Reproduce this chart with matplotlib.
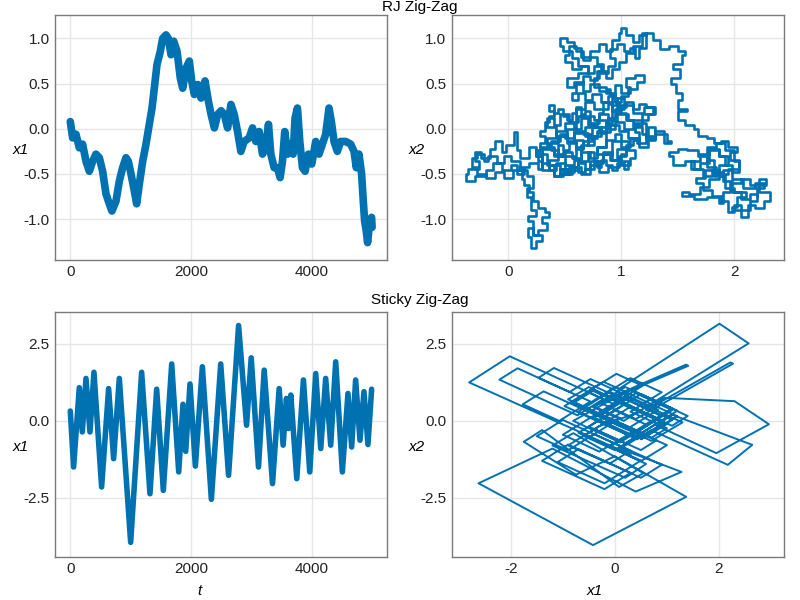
#!/usr/bin/env python
# -*- coding: utf-8 -*-
"""Zig-zag sampler traces: RJ Zig-Zag (top row) and Sticky Zig-Zag (bottom row)."""

import matplotlib
matplotlib.use('Agg')
import matplotlib.pyplot as plt

##############################################################################
# Data

# RJ Zig-Zag, x1 against time
rj_t = [0, 39, 94, 149, 204, 260, 315, 370, 425, 481, 536, 591, 646, 690,
        757, 812, 867, 923, 961, 1006, 1061, 1099, 1144, 1199, 1254, 1309,
        1354, 1392, 1436, 1492, 1530, 1586, 1624, 1669, 1713, 1768, 1823,
        1862, 1917, 1972, 2011, 2055, 2111, 2166, 2232, 2287, 2332, 2387,
        2442, 2497, 2551, 2606, 2661, 2716, 2771, 2826, 2881, 2964, 3019,
        3074, 3129, 3184, 3239, 3283, 3322, 3377, 3432, 3476, 3515, 3553,
        3598, 3653, 3691, 3724, 3763, 3802, 3846, 3890, 3945, 4000, 4066,
        4121, 4176, 4231, 4286, 4325, 4369, 4424, 4479, 4562, 4645, 4700,
        4738, 4782, 4826, 4854, 4876, 4903, 4925, 4958, 4991, 5000]
rj_x1 = [0.08, -0.10, -0.06, -0.21, -0.17, -0.36, -0.47, -0.36, -0.28,
         -0.32, -0.47, -0.72, -0.83, -0.91, -0.80, -0.58, -0.43, -0.32,
         -0.36, -0.50, -0.69, -0.83, -0.61, -0.36, -0.17, 0.05, 0.23, 0.45,
         0.71, 0.86, 1.00, 1.04, 1.00, 0.82, 0.97, 0.86, 0.56, 0.45, 0.67,
         0.75, 0.53, 0.38, 0.49, 0.34, 0.53, 0.31, 0.16, 0.01, 0.16, 0.20,
         0.16, 0.01, 0.27, 0.16, -0.03, -0.25, -0.14, -0.10, 0.01, -0.14,
         -0.03, -0.28, -0.21, 0.05, -0.28, -0.43, -0.43, -0.54, -0.36, -0.03,
         -0.28, -0.17, -0.28, 0.12, 0.23, -0.14, -0.43, -0.47, -0.28, -0.39,
         -0.14, -0.28, -0.17, -0.06, 0.23, 0.08, -0.14, -0.25, -0.14, -0.14,
         -0.17, -0.25, -0.43, -0.28, -0.50, -0.80, -1.02, -1.13, -1.26,
         -1.05, -0.98, -1.09]

# RJ Zig-Zag, (x1, x2) corners of the axis-parallel walk, region by region
rj_center_a = [(0.60, -0.20), (0.66, -0.12), (0.58, -0.05), (0.70, -0.18),
               (0.76, -0.08), (0.68, 0.02), (0.80, -0.05), (0.86, -0.20),
               (0.78, -0.28), (0.90, -0.35), (0.96, -0.22), (1.04, -0.30),
               (0.98, -0.42), (0.88, -0.48), (0.80, -0.40), (0.72, -0.50),
               (0.64, -0.42), (0.56, -0.50), (0.50, -0.38), (0.42, -0.46),
               (0.36, -0.34), (0.44, -0.24), (0.38, -0.14), (0.46, -0.06),
               (0.52, -0.16), (0.60, -0.30)]
rj_left = [(0.50, -0.28), (0.40, -0.22), (0.30, -0.30), (0.24, -0.20),
           (0.18, -0.32), (0.10, -0.24), (0.08, -0.03), (0.05, -0.18),
           (-0.02, -0.26), (-0.06, -0.14), (-0.12, -0.22), (-0.16, -0.32),
           (-0.24, -0.26), (-0.30, -0.36), (-0.26, -0.44), (-0.36, -0.50),
           (-0.38, -0.58), (-0.30, -0.52), (-0.20, -0.46), (-0.14, -0.38),
           (-0.06, -0.46), (0.02, -0.40), (0.08, -0.50), (0.14, -0.44),
           (0.12, -0.55)]
rj_tail = [(0.14, -0.62), (0.18, -0.70), (0.22, -0.80), (0.26, -0.88),
           (0.32, -0.92), (0.36, -0.98), (0.30, -1.04), (0.34, -1.12),
           (0.26, -1.18), (0.22, -1.10), (0.17, -1.20), (0.20, -1.32),
           (0.24, -1.24), (0.30, -1.18), (0.22, -1.02), (0.17, -0.96),
           (0.24, -0.90), (0.20, -0.76), (0.16, -0.66), (0.22, -0.52)]
rj_left_b = [(0.16, -0.46), (0.10, -0.36), (0.02, -0.30), (-0.04, -0.38),
             (-0.10, -0.30), (-0.18, -0.36), (-0.22, -0.28), (-0.28, -0.32),
             (-0.32, -0.42), (-0.28, -0.50), (-0.20, -0.54), (-0.12, -0.48),
             (-0.04, -0.54), (0.04, -0.46), (0.10, -0.42), (0.18, -0.38),
             (0.26, -0.44), (0.30, -0.36), (0.26, -0.26), (0.30, -0.46)]
rj_center_b = [(0.36, -0.40), (0.46, -0.50), (0.54, -0.42), (0.62, -0.36),
               (0.70, -0.26), (0.76, -0.36), (0.84, -0.28), (0.92, -0.14),
               (1.00, -0.20), (1.08, -0.10), (1.16, -0.20), (1.24, -0.12),
               (1.30, -0.02), (1.38, -0.16), (1.44, -0.14), (1.40, -0.06),
               (1.30, -0.10), (1.22, 0.06), (1.12, 0.00), (1.02, 0.08),
               (0.94, 0.00), (0.86, 0.10), (0.78, 0.04), (0.70, 0.14),
               (0.62, 0.08), (0.54, 0.16), (0.46, 0.04), (0.40, 0.12),
               (0.34, 0.02), (0.42, -0.08), (0.52, 0.00), (0.60, 0.22),
               (0.68, 0.30), (0.76, 0.22), (0.84, 0.30), (0.92, 0.20),
               (1.00, 0.26), (1.10, 0.18), (1.20, 0.24), (1.30, 0.16),
               (1.18, 0.10), (1.06, 0.16), (0.96, 0.34)]
rj_center_c = [(1.02, 0.22), (0.94, 0.12), (0.88, 0.02), (0.82, -0.08),
               (0.74, -0.14), (0.66, -0.22), (0.60, -0.14), (0.54, -0.24),
               (0.48, -0.18), (0.44, -0.30), (0.50, -0.40), (0.58, -0.34),
               (0.64, -0.26), (0.72, -0.32), (0.78, -0.20), (0.86, -0.12),
               (0.94, -0.06), (1.00, -0.14), (1.06, -0.24), (1.12, -0.32),
               (1.08, -0.40), (1.00, -0.34), (0.92, -0.26), (0.84, -0.38),
               (0.76, -0.44), (0.68, -0.38), (0.62, -0.46), (0.54, -0.44),
               (0.48, -0.52), (0.40, -0.40), (0.34, -0.28), (0.28, -0.20),
               (0.34, -0.10), (0.42, -0.02), (0.50, 0.06), (0.58, 0.00),
               (0.64, 0.12), (0.72, 0.06), (0.80, 0.16), (0.88, 0.10),
               (0.96, 0.18), (1.04, 0.10), (1.10, 0.02), (1.18, -0.06),
               (1.24, 0.02), (1.30, -0.08), (1.22, -0.16), (1.14, -0.10),
               (1.06, -0.02), (0.98, 0.04), (0.90, -0.04), (0.82, 0.02),
               (0.74, -0.06), (0.66, -0.02), (0.58, -0.10), (0.50, -0.08),
               (0.44, -0.16), (0.36, -0.20), (0.40, -0.30), (0.48, -0.26),
               (0.56, -0.32), (0.64, -0.18), (0.70, -0.10), (0.78, -0.02),
               (0.86, 0.06), (0.92, 0.26), (0.96, 0.34)]
rj_center_d = [(0.92, 0.28), (0.88, 0.22), (0.84, 0.18), (0.80, 0.10),
               (0.76, 0.14), (0.72, 0.20), (0.68, 0.16), (0.64, 0.24),
               (0.60, 0.18), (0.56, 0.10), (0.52, 0.14), (0.48, 0.22),
               (0.44, 0.18), (0.40, 0.26), (0.36, 0.20), (0.40, 0.14),
               (0.36, 0.08), (0.32, -0.02), (0.28, -0.08), (0.32, -0.16),
               (0.28, -0.24), (0.24, -0.30), (0.30, -0.38), (0.36, -0.46),
               (0.40, -0.52), (0.46, -0.44), (0.52, -0.48), (0.58, -0.42),
               (0.62, -0.48), (0.68, -0.44), (0.72, -0.36), (0.78, -0.42),
               (0.82, -0.34), (0.86, -0.40), (0.92, -0.46), (0.96, -0.38),
               (1.02, -0.44), (1.06, -0.36), (1.00, -0.28), (1.04, -0.18),
               (1.10, -0.12), (1.16, -0.04), (1.12, 0.04), (1.18, 0.10),
               (1.24, 0.16), (1.28, 0.24), (1.22, 0.28), (1.16, 0.22),
               (1.10, 0.30), (1.04, 0.24), (0.98, 0.30), (0.94, 0.38),
               (0.90, 0.44)]
rj_upper = [(0.88, 0.42), (0.80, 0.50), (0.72, 0.42), (0.66, 0.52),
            (0.58, 0.46), (0.52, 0.56), (0.62, 0.62), (0.70, 0.70),
            (0.62, 0.78), (0.56, 0.86), (0.48, 0.92), (0.46, 1.00),
            (0.52, 0.96), (0.58, 0.90), (0.64, 0.80), (0.72, 0.86),
            (0.80, 0.94), (0.86, 0.86), (0.92, 0.98), (0.98, 1.06),
            (1.00, 1.12), (1.04, 1.04), (1.10, 0.96), (1.16, 1.04),
            (1.22, 1.06), (1.18, 0.92), (1.10, 0.84), (1.04, 0.74),
            (0.98, 0.66), (0.92, 0.56), (0.86, 0.64), (0.80, 0.56),
            (0.76, 0.46), (0.86, 0.40), (0.94, 0.48), (1.00, 0.40),
            (1.08, 0.46), (1.04, 0.56), (1.12, 0.60), (1.20, 0.52),
            (1.14, 0.44), (1.06, 0.36), (1.00, 0.30)]
rj_upper_b = [(0.94, 0.36), (0.88, 0.30), (0.82, 0.38), (0.74, 0.32),
              (0.68, 0.40), (0.62, 0.32), (0.56, 0.40), (0.60, 0.50),
              (0.66, 0.58), (0.72, 0.54), (0.78, 0.64), (0.84, 0.72),
              (0.78, 0.80), (0.72, 0.76), (0.66, 0.86), (0.60, 0.92),
              (0.54, 0.82), (0.50, 0.74), (0.56, 0.66), (0.64, 0.70),
              (0.70, 0.62), (0.76, 0.70), (0.82, 0.62), (0.88, 0.70),
              (0.94, 0.78), (0.90, 0.88), (0.96, 0.94), (1.02, 0.86),
              (1.08, 0.90), (1.12, 0.78), (1.16, 0.90), (1.22, 1.06)]
rj_arm = [(1.28, 0.98), (1.34, 0.88), (1.42, 0.92), (1.50, 0.86),
          (1.56, 0.82), (1.54, 0.72), (1.46, 0.66), (1.52, 0.56),
          (1.44, 0.50), (1.48, 0.40), (1.54, 0.32), (1.50, 0.22),
          (1.58, 0.20), (1.50, 0.10), (1.56, 0.04), (1.64, 0.00),
          (1.68, -0.08), (1.76, -0.10), (1.82, -0.16), (1.88, -0.14)]
rj_right = [(1.94, -0.20), (2.02, -0.26), (1.96, -0.34), (2.04, -0.44),
            (1.94, -0.50), (1.84, -0.42), (1.76, -0.30), (1.68, -0.24),
            (1.58, -0.22), (1.50, -0.26), (1.42, -0.30), (1.46, -0.40),
            (1.56, -0.36), (1.64, -0.44), (1.72, -0.52), (1.80, -0.46),
            (1.86, -0.56), (1.78, -0.64), (1.70, -0.72), (1.60, -0.70),
            (1.54, -0.74), (1.64, -0.78), (1.76, -0.76), (1.86, -0.82),
            (1.90, -0.70), (1.96, -0.60), (2.06, -0.56), (2.14, -0.62),
            (2.22, -0.56), (2.28, -0.62), (2.22, -0.70), (2.32, -0.80),
            (2.26, -0.88), (2.18, -0.84), (2.12, -0.98), (2.06, -0.90),
            (1.98, -0.86), (2.02, -0.76), (2.10, -0.70), (2.00, -0.66),
            (1.92, -0.52), (1.86, -0.40), (1.94, -0.30), (1.86, -0.24),
            (1.78, -0.38), (1.70, -0.44)]
rj_right_b = [(1.62, -0.36), (1.70, -0.28), (1.78, -0.22), (1.86, -0.30),
              (1.92, -0.40), (1.98, -0.48), (2.04, -0.36), (2.00, -0.24),
              (1.92, -0.16), (1.84, -0.20), (1.76, -0.34), (1.82, -0.48),
              (1.90, -0.58), (1.98, -0.70), (2.06, -0.78), (2.14, -0.72),
              (2.20, -0.80), (2.14, -0.90), (2.06, -0.84), (2.00, -0.92),
              (1.94, -0.80), (1.88, -0.74), (1.80, -0.68), (1.72, -0.60),
              (1.66, -0.54), (1.74, -0.46), (1.82, -0.52), (1.90, -0.46),
              (1.98, -0.56), (2.08, -0.66), (2.18, -0.60), (2.26, -0.66),
              (2.20, -0.74)]

# Sticky Zig-Zag, x1 against time (turning points)
st_t = [0, 55, 149, 199, 260, 326, 392, 519, 635, 718, 812, 1000, 1182,
        1320, 1431, 1541, 1680, 1796, 1867, 1912, 1983, 2072, 2188, 2337,
        2492, 2622, 2788, 2920, 2997, 3118, 3212, 3350, 3460, 3526, 3581,
        3614, 3653, 3752, 3862, 3967, 4066, 4149, 4231, 4314, 4397, 4507,
        4600, 4661, 4727, 4799, 4865, 4931, 4992]
st_x1 = [0.32, -1.50, 1.08, -0.36, 1.38, -0.36, 1.58, -2.15, 1.05, -1.23,
         1.38, -3.95, 1.58, -2.37, 1.03, -2.26, 1.85, -1.66, 0.54, -0.99,
         1.20, -1.47, 1.76, -2.55, 1.85, -1.77, 3.10, -0.14, 2.05, -1.50,
         1.65, -2.04, 1.05, -0.79, 0.73, -0.25, 0.84, -1.88, 1.33, -1.66,
         1.54, -0.90, 1.38, -0.79, 1.92, -1.66, 0.89, -0.85, 1.33, -0.63,
         0.95, -0.77, 1.03]

# Sticky Zig-Zag, (x1, x2) turning points of the diagonal walk
st_upper_left = [(0.30, -1.10), (-2.80, 1.25), (-2.02, 2.10), (-0.22, 0.71),
                 (-0.72, 0.18), (-2.22, 1.34), (-1.87, 1.71), (-0.47, 0.63),
                 (-1.07, 0.00), (-1.77, 0.54), (-1.37, 0.96), (0.23, -0.27),
                 (0.83, 0.36), (-0.47, 1.36), (-0.87, 0.94), (-1.47, 1.40),
                 (-1.17, 1.72), (0.13, 0.72), (0.53, 1.14), (0.03, 1.53),
                 (-0.97, 0.48), (0.43, -0.60), (0.93, -0.07), (-0.47, 1.01),
                 (-0.22, 1.27), (0.08, 1.04)]
st_upper_right = [(2.01, 3.16), (2.57, 2.52), (0.17, 0.00), (-0.43, 0.46),
                  (1.41, 1.79), (1.37, 1.83), (-0.30, 0.60), (0.40, 0.06),
                  (2.27, 1.86), (2.22, 1.90), (0.60, 0.35), (0.95, 0.75),
                  (2.30, 0.64), (2.96, -0.11), (1.95, -1.05), (0.80, -0.15),
                  (1.10, 0.20), (2.64, -0.78), (2.17, -1.43), (0.70, -0.30),
                  (0.10, -0.90), (1.28, -1.66)]
st_lower = [(0.40, -2.30), (-1.20, -0.90), (-2.62, -2.03), (-0.42, -4.04),
            (1.37, -2.47), (0.00, -1.15), (-0.75, -1.75), (-1.75, -0.68),
            (-1.40, -0.30), (0.08, -2.15), (0.55, -1.70), (-0.80, -0.40),
            (-1.20, -0.80), (0.20, -1.85), (0.60, -1.40), (-0.40, -0.60)]
st_lower_b = [(0.50, -1.29), (-0.20, -2.03), (-1.10, -1.34), (-0.70, -0.92),
              (0.30, -1.69), (-0.20, -2.22), (-1.40, -1.30), (-0.90, -0.77),
              (0.50, -1.85), (0.90, -1.43), (-0.40, -0.43), (-0.90, -0.96),
              (-1.50, -0.50), (-1.00, 0.03), (0.30, -0.97), (-0.10, -1.39),
              (-0.90, -0.80), (-0.30, -0.17)]
st_center = [(0.50, 0.30), (-0.50, 1.10), (-0.90, 0.70), (0.60, -0.45),
             (1.20, 0.15), (0.00, 1.10), (-0.60, 0.45), (0.40, -0.30),
             (-0.30, -1.00), (-1.00, -0.45), (0.20, 0.80), (1.30, -0.05),
             (0.70, -0.65), (-0.30, 0.15), (0.40, 0.90), (1.10, 0.35),
             (0.30, -0.50), (-0.70, 0.30), (-0.10, 0.95), (0.90, 0.15),
             (0.10, -0.70), (-0.80, 0.00), (0.00, 0.75), (1.00, -0.10),
             (0.50, -0.60)]
st_center_b = [(1.10, 0.03), (0.20, 0.72), (-0.30, 0.20), (0.40, -0.34),
               (0.80, 0.08), (-0.40, 1.00), (-0.80, 0.58), (0.50, -0.42),
               (0.00, -0.95), (-0.60, -0.49), (0.30, 0.46), (1.10, -0.16),
               (1.40, 0.16), (0.30, 1.01), (0.00, 0.70), (0.90, 0.01),
               (0.20, -0.73), (-0.50, -0.19), (0.00, 0.34), (0.60, -0.12),
               (1.10, 0.41), (0.20, 1.10), (-0.40, 0.47), (0.10, 0.09),
               (-0.50, -0.54), (0.50, -1.31), (1.00, -0.79), (-0.20, 0.13),
               (0.50, 0.87), (1.20, 0.33), (0.40, -0.51), (-0.40, 0.11),
               (0.00, 0.53), (-0.50, 0.92), (-0.80, 0.61), (0.70, -0.55),
               (1.00, -0.24), (0.30, 0.30), (0.90, 0.93), (0.30, 1.39),
               (-0.20, 0.87), (0.20, 0.56), (-0.70, -0.39), (-0.10, -0.85),
               (0.80, 0.10), (0.10, 0.64), (-0.30, 0.22), (0.80, -0.63),
               (0.50, -0.95), (-0.40, -0.26)]

##############################################################################
# Styling

LINE_COLOR = '#0072B2'
FRAME_COLOR = '#7a7a7a'
GRID_COLOR = '#e6e6e6'

plt.rcParams['font.family'] = ['Liberation Sans', 'DejaVu Sans']
plt.rcParams['font.size'] = 11
plt.rcParams['axes.unicode_minus'] = False


def style_axes(ax, xticks, yticks, xlim, ylim, yticklabels):
    ax.set_xlim(*xlim)
    ax.set_ylim(*ylim)
    ax.set_xticks(xticks)
    ax.set_yticks(yticks)
    ax.set_yticklabels(yticklabels)
    ax.grid(True, color=GRID_COLOR, linewidth=1.0)
    ax.set_axisbelow(True)
    for sp in ax.spines.values():
        sp.set_color(FRAME_COLOR)
        sp.set_linewidth(1.0)
    ax.tick_params(length=0, pad=4, labelsize=11, colors='#222222')


rj_walk = (rj_center_a + rj_left + rj_tail + rj_left_b + rj_center_b
           + rj_center_c + rj_center_d + rj_upper + rj_upper_b + rj_arm
           + rj_right + rj_right_b)
rj_walk_x1, rj_walk_x2 = zip(*rj_walk)
st_walk = (st_upper_left + st_upper_right + st_lower + st_lower_b
           + st_center + st_center_b)
st_walk_x1, st_walk_x2 = zip(*st_walk)

fig = plt.figure(figsize=(8, 6), dpi=100)

# axes boxes in figure fractions (left, bottom, width, height)
ax_tl = fig.add_axes([0.069, 0.567, 0.415, 0.408])
ax_tr = fig.add_axes([0.565, 0.567, 0.415, 0.408])
ax_bl = fig.add_axes([0.069, 0.072, 0.415, 0.408])
ax_br = fig.add_axes([0.565, 0.072, 0.415, 0.408])

half = ['-1.0', '-0.5', '0.0', '0.5', '1.0']
quarter = ['-2.5', '0.0', '2.5']

ax_tl.plot(rj_t, rj_x1, color=LINE_COLOR, linewidth=5.5,
           solid_joinstyle='round', solid_capstyle='round')
style_axes(ax_tl, [0, 2000, 4000], [-1.0, -0.5, 0.0, 0.5, 1.0],
           (-250, 5250), (-1.45, 1.26), half)

ax_tr.plot(rj_walk_x1, rj_walk_x2, color=LINE_COLOR, linewidth=1.9,
           drawstyle='steps-post')
style_axes(ax_tr, [0, 1, 2], [-1.0, -0.5, 0.0, 0.5, 1.0],
           (-0.5, 2.44), (-1.45, 1.26), half)

ax_bl.plot(st_t, st_x1, color=LINE_COLOR, linewidth=4.0,
           solid_joinstyle='round', solid_capstyle='round')
style_axes(ax_bl, [0, 2000, 4000], [-2.5, 0.0, 2.5],
           (-250, 5250), (-4.42, 3.54), quarter)

ax_br.plot(st_walk_x1, st_walk_x2, color=LINE_COLOR, linewidth=1.4)
style_axes(ax_br, [-2, 0, 2], [-2.5, 0.0, 2.5],
           (-3.13, 3.25), (-4.42, 3.54), quarter)

# horizontal axis labels in italics, placed as in the reference
for ax, lab in [(ax_tl, 'x1'), (ax_tr, 'x2'), (ax_bl, 'x1'), (ax_br, 'x2')]:
    ax.text(-0.105, 0.45, lab, transform=ax.transAxes, style='italic',
            ha='center', va='center', fontsize=11)
ax_bl.text(0.434, -0.14, 't', transform=ax_bl.transAxes, style='italic',
           ha='center', va='center', fontsize=11)
ax_br.text(0.431, -0.14, 'x1', transform=ax_br.transAxes, style='italic',
           ha='center', va='center', fontsize=11)

fig.text(0.525, 1 - 7 / 600, 'RJ Zig-Zag', ha='center', va='center',
         fontsize=11)
fig.text(0.525, 1 - 300 / 600, 'Sticky Zig-Zag', ha='center', va='center',
         fontsize=11)

fig.savefig('out.png', dpi=100)
